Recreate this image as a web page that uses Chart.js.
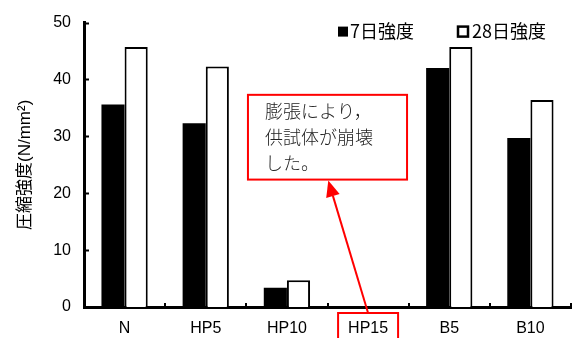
<!DOCTYPE html>
<html>
<head>
<meta charset="utf-8">
<script src="https://cdn.jsdelivr.net/npm/chart.js@4/dist/chart.umd.min.js"></script>
<style>
  html, body { margin: 0; padding: 0; background: #fff; }
  canvas { display: block; }
</style>
</head>
<body>
<canvas id="chart" width="572" height="338"></canvas>
<script>
// Compressive strength by mix, 7-day vs 28-day
const categories = ['N', 'HP5', 'HP10', 'HP15', 'B5', 'B10'];
const strength7 = [35.6, 32.3, 3.4, 0, 42.0, 29.7];
const strength28 = [45.7, 42.3, 4.7, 0, 45.7, 36.4];
const seriesLabels = ['7日強度', '28日強度'];
const yTicks = [0, 10, 20, 30, 40, 50];
const axisTitle = '圧縮強度(N/mm²)';
const noteLines = ['膨張により，', '供試体が崩壊', 'した。'];
const noteTarget = 'HP15';

const LATIN = '"Liberation Sans", "Noto Sans CJK JP", sans-serif';
const CJK = '"Noto Sans CJK JP", sans-serif';

// Inward tick marks, category separators, legend and callout
const decorations = {
  id: 'decorations',
  afterDraw(chart) {
    const { ctx, chartArea: area, scales: { x, y } } = chart;
    ctx.save();

    // y ticks pointing into the plot
    ctx.strokeStyle = '#000';
    ctx.lineWidth = 2;
    yTicks.forEach(v => {
      const py = Math.round(y.getPixelForValue(v)) + 0.5;
      ctx.beginPath();
      ctx.moveTo(area.left, py);
      ctx.lineTo(area.left + 5, py);
      ctx.stroke();
    });

    // short marks between categories on the x axis
    for (let i = 0; i < categories.length; i++) {
      const px = Math.round(x.getPixelForValue(i + 0.5));
      ctx.beginPath();
      ctx.moveTo(px, area.bottom);
      ctx.lineTo(px, area.bottom - 4);
      ctx.stroke();
    }

    // legend
    const legendY = area.top + 9;
    ctx.fillStyle = '#000';
    ctx.font = '18px ' + CJK;
    ctx.textBaseline = 'middle';
    ctx.textAlign = 'left';
    let lx = area.right - 233;
    ctx.fillRect(lx, legendY - 5, 10, 10);
    ctx.fillText(seriesLabels[0], lx + 12, legendY);
    lx = area.right - 114;
    ctx.lineWidth = 2.5;
    ctx.strokeRect(lx + 1, legendY - 5, 10, 10);
    ctx.fillText(seriesLabels[1], lx + 15, legendY);

    // callout box
    const idx = categories.indexOf(noteTarget);
    const bx0 = x.getPixelForValue(idx - 1.48);
    const bx1 = x.getPixelForValue(idx + 0.48);
    const by0 = y.getPixelForValue(37.3);
    const by1 = y.getPixelForValue(22.4);
    ctx.fillStyle = '#fff';
    ctx.fillRect(bx0, by0, bx1 - bx0, by1 - by0);
    ctx.strokeStyle = '#ff0000';
    ctx.lineWidth = 2;
    ctx.strokeRect(bx0, by0, bx1 - bx0, by1 - by0);
    ctx.fillStyle = '#222';
    ctx.font = '300 18px ' + CJK;
    noteLines.forEach((t, k) => {
      ctx.fillText(t, bx0 + 17, by0 + 16 + k * 26);
    });

    // box around the category label
    const cx = x.getPixelForValue(idx);
    const lbTop = area.bottom + 6;
    ctx.strokeRect(cx - 30, lbTop, 60, 40);

    // arrow from label to callout
    const ax0 = cx, ay0 = lbTop;
    const ax1 = x.getPixelForValue(idx - 0.49), ay1 = by1 + 1;
    const ang = Math.atan2(ay1 - ay0, ax1 - ax0);
    const headLen = 16, headW = 7;
    const hx = ax1 - headLen * Math.cos(ang), hy = ay1 - headLen * Math.sin(ang);
    ctx.beginPath();
    ctx.moveTo(ax0, ay0);
    ctx.lineTo(hx, hy);
    ctx.stroke();
    ctx.fillStyle = '#ff0000';
    ctx.beginPath();
    ctx.moveTo(ax1, ay1);
    ctx.lineTo(hx + headW * Math.sin(ang), hy - headW * Math.cos(ang));
    ctx.lineTo(hx - headW * Math.sin(ang), hy + headW * Math.cos(ang));
    ctx.closePath();
    ctx.fill();

    ctx.restore();
  }
};

new Chart(document.getElementById('chart'), {
  type: 'bar',
  data: {
    labels: categories,
    datasets: [
      {
        label: seriesLabels[0],
        data: strength7,
        backgroundColor: '#000',
        borderColor: '#000',
        borderWidth: 0
      },
      {
        label: seriesLabels[1],
        data: strength28,
        backgroundColor: '#fff',
        borderColor: '#000',
        borderWidth: 2
      }
    ]
  },
  options: {
    responsive: false,
    animation: false,
    devicePixelRatio: 1,
    layout: { padding: { top: 16, right: 1, left: 0, bottom: 0 } },
    categoryPercentage: 0.57,
    barPercentage: 1.0,
    plugins: {
      legend: { display: false },
      tooltip: { enabled: false }
    },
    scales: {
      x: {
        z: 1,
        offset: true,
        grid: { display: false, drawTicks: false },
        border: { display: true, width: 3, color: '#000' },
        ticks: { color: '#000', font: { family: LATIN, size: 16 }, padding: 12, maxRotation: 0 },
        afterFit(scale) { scale.height = 31; }
      },
      y: {
        z: 1,
        min: 0,
        max: 50,
        afterBuildTicks(scale) { scale.ticks = yTicks.map(v => ({ value: v })); },
        grid: { display: false, drawTicks: false },
        border: { display: true, width: 3, color: '#000' },
        ticks: { color: '#000', font: { family: LATIN, size: 16 }, padding: 13 },
        title: {
          display: true,
          text: axisTitle,
          color: '#000',
          font: { family: LATIN, size: 17 },
          padding: { top: 15, bottom: 0 }
        },
        afterFit(scale) { scale.width = 84; }
      }
    }
  },
  plugins: [decorations]
});
</script>
</body>
</html>
